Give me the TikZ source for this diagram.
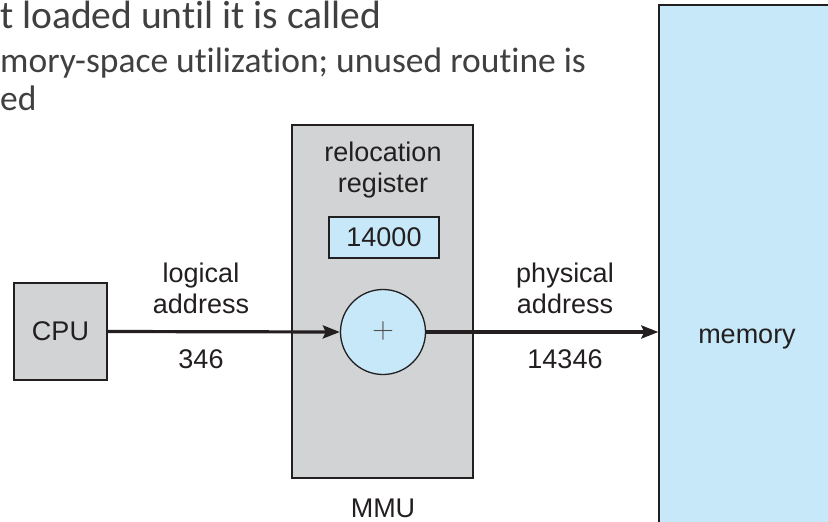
\documentclass[tikz,border=0pt]{standalone}
\usepackage{fontspec}
\setmainfont{Liberation Sans}
\newfontfamily\slidefont[RawFeature=-liga]{Carlito}
\usetikzlibrary{arrows.meta}
\definecolor{linecol}{HTML}{231F20}
\definecolor{boxgrey}{HTML}{D1D3D4}
\definecolor{boxblue}{HTML}{C6E8F8}
\definecolor{slidetext}{HTML}{404040}
\tikzset{
  x=1pt,y=1pt,
  greybox/.style={draw=linecol,line width=1.3pt,fill=boxgrey,inner sep=0pt},
  bluebox/.style={draw=linecol,line width=1.3pt,fill=boxblue,inner sep=0pt},
  lbl/.style={font=\fontsize{27}{30.5}\selectfont,text=linecol,inner sep=0pt,align=center,anchor=base},
  slidebig/.style={font=\slidefont\fontsize{39.5}{44}\selectfont,text=slidetext,inner sep=0pt,anchor=base west},
  slidesmall/.style={font=\slidefont\fontsize{35.5}{40}\selectfont,text=slidetext,inner sep=0pt,anchor=base west},
  flow/.style={draw=linecol,line width=3.2pt,-{Stealth[length=17pt,width=13pt,inset=3pt]}}
}
\begin{document}
\begin{tikzpicture}
\useasboundingbox (0,0) rectangle (828,-522);
% slide text
\node[slidebig] (s1) at (0,-28) {t loaded until it is called};
\node[slidesmall] (s2) at (0,-72) {mory-space utilization; unused routine is};
\node[slidesmall] (s3) at (0,-110) {ed};
% memory
\node[bluebox,minimum width=190pt,minimum height=540pt] (mem) at (754,-275) {};
\node[lbl] (memtxt) at (747,-343) {memory};
% MMU
\node[greybox,minimum width=181pt,minimum height=353pt] (mmu) at (382.5,-301.5) {};
\node[lbl] (reloc) at (383,-192) {relocation\\register};
\node[bluebox,minimum width=110pt,minimum height=41pt,lbl,anchor=center] (reg) at (384,-237.5) {14000};
\node[bluebox,circle,minimum size=85pt] (add) at (383,-332) {};
\node[font=\fontsize{30}{30}\selectfont\sffamily,text=linecol!80,inner sep=0pt] (plus) at (383,-331) {+};
\node[lbl] (mmutxt) at (383,-517) {MMU};
% CPU
\node[greybox,minimum width=93pt,minimum height=97pt,lbl,anchor=center] (cpu) at (60.5,-331.5) {CPU};
% labels
\node[lbl] (la) at (201,-313) {logical\\address};
\node[lbl] (l346) at (201,-368) {346};
\node[lbl] (pa) at (565,-313) {physical\\address};
\node[lbl] (p14346) at (565,-368) {14346};
% arrows
\draw[flow] (cpu.east) -- (add.west);
\draw[flow] (add.east) -- (add.east -| mem.west);
\end{tikzpicture}
\end{document}
